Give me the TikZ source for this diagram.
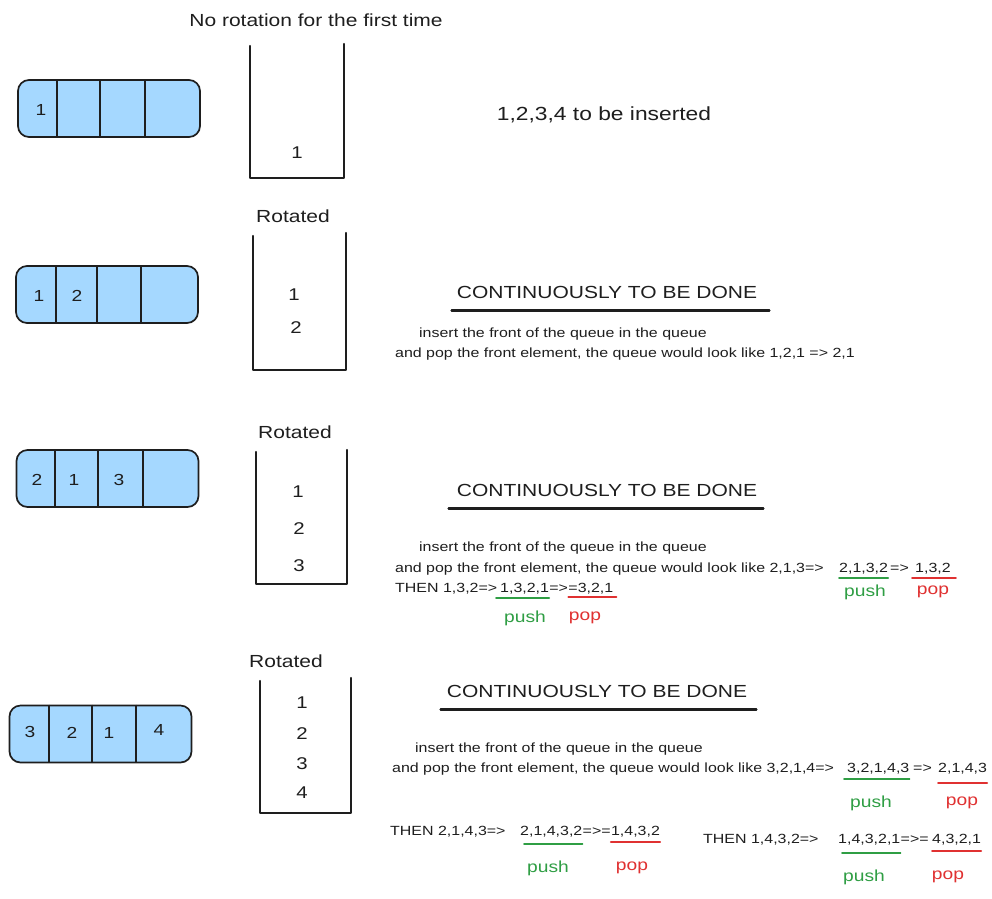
\documentclass[tikz,border=0pt]{standalone}
\usepackage{fontspec}
\setmainfont[FakeStretch=1.2]{Liberation Sans}
\usetikzlibrary{calc}
\definecolor{qblue}{HTML}{A5D8FF}
\definecolor{ink}{HTML}{1E1E1E}
\definecolor{pgreen}{HTML}{2F9E44}
\definecolor{pred}{HTML}{E03131}
\begin{document}
\begin{tikzpicture}[x=1pt,y=-1pt,
  every node/.style={inner sep=0pt, text=ink},
  qbox/.style={draw=ink, line width=1.7pt, fill=qblue, rounded corners=11pt, minimum width=182pt, minimum height=57pt},
  qdiv/.style={draw=ink, line width=1.8pt},
  digit/.style={font=\fontsize{16}{16}\selectfont},
  sdigit/.style={font=\fontsize{17}{17}\selectfont},
  stackbox/.style={draw=ink, line width=2.4pt, line cap=round, line join=round},
  heading/.style={font=\fontsize{17.5}{17.5}\selectfont},
  bigtext/.style={font=\fontsize{19}{19}\selectfont},
  titletext/.style={font=\fontsize{17.5}{17.5}\selectfont},
  tline/.style={draw=ink, line width=2.6pt, line cap=round},
  body/.style={font=\fontsize{13.3}{13.3}\selectfont, anchor=base west},
  pushlbl/.style={text=pgreen, font=\fontsize{16}{16}\selectfont},
  poplbl/.style={text=pred, font=\fontsize{16}{16}\selectfont},
  gline/.style={draw=pgreen, line width=1.8pt, line cap=round},
  rline/.style={draw=pred, line width=1.8pt, line cap=round}]
\useasboundingbox (0,0) rectangle (992,898);
\fill[white] (0,0) rectangle (992,898);

% ---------- Row 1 ----------
\node[heading] (h1) at (316,20) {No rotation for the first time};
\node[qbox] (q1) at (109,108.5) {};
\foreach \dx in {40,83,128} \draw[qdiv] ($(q1.north west)+(\dx,0)$) -- ($(q1.south west)+(\dx,0)$);
\node[digit] (q1a) at (41,110) {1};
\coordinate (s1a) at (250,46); \coordinate (s1b) at (250,178);
\coordinate (s1c) at (344,178); \coordinate (s1d) at (344,44);
\draw[stackbox] (s1a) -- (s1b) -- (s1c) -- (s1d);
\node[sdigit] (s1x1) at (297,153) {1};
\node[bigtext] (ins) at (604,115) {1,2,3,4 to be inserted};

% ---------- Row 2 ----------
\node[heading] (h2) at (293,216) {Rotated};
\node[qbox] (q2) at (107,294.5) {};
\foreach \dx in {41,82,126} \draw[qdiv] ($(q2.north west)+(\dx,0)$) -- ($(q2.south west)+(\dx,0)$);
\node[digit] (q2a) at (39,296) {1};
\node[digit] (q2b) at (77,296) {2};
\coordinate (s2a) at (253,236); \coordinate (s2b) at (253,370);
\coordinate (s2c) at (346,370); \coordinate (s2d) at (346,233);
\draw[stackbox] (s2a) -- (s2b) -- (s2c) -- (s2d);
\node[sdigit] (s2x1) at (294,295) {1};
\node[sdigit] (s2x2) at (296,328) {2};
\node[titletext] (t2) at (607,292) {CONTINUOUSLY TO BE DONE};
\draw[tline] ($(t2.south west)+(-5,12)$) -- ($(t2.south east)+(12,12)$);
\node[body] (r2i) at (419,337) {insert the front of the queue in the queue};
\node[body] (r2a) at (395,357) {and pop the front element, the queue would look like 1,2,1 => 2,1};

% ---------- Row 3 ----------
\node[heading] (h3) at (295,432) {Rotated};
\node[qbox] (q3) at (107.5,478.5) {};
\foreach \dx in {39,82,127} \draw[qdiv] ($(q3.north west)+(\dx,0)$) -- ($(q3.south west)+(\dx,0)$);
\node[digit] (q3a) at (37,480) {2};
\node[digit] (q3b) at (74,480) {1};
\node[digit] (q3c) at (119,480) {3};
\coordinate (s3a) at (256,452); \coordinate (s3b) at (256,584);
\coordinate (s3c) at (347,584); \coordinate (s3d) at (347,450);
\draw[stackbox] (s3a) -- (s3b) -- (s3c) -- (s3d);
\node[sdigit] (s3x1) at (298,492) {1};
\node[sdigit] (s3x2) at (299,529) {2};
\node[sdigit] (s3x3) at (299,566) {3};
\node[titletext] (t3) at (607,490) {CONTINUOUSLY TO BE DONE};
\draw[tline] ($(t3.south west)+(-8,12)$) -- ($(t3.south east)+(6,12)$);
\node[body] (r3i) at (419,551) {insert the front of the queue in the queue};
\node[body] (r3a) at (395,572) {and pop the front element, the queue would look like 2,1,3=>};
\node[body] (r3b) at (839,572) {2,1,3,2};
\node[body] (r3c) at (890,572) {=>};
\node[body] (r3d) at (915,572) {1,3,2};
\draw[gline] ([yshift=-6pt]r3b.base west) -- ([yshift=-6pt]r3b.base east);
\draw[rline] ([yshift=-6pt,xshift=-3pt]r3d.base west) -- ([yshift=-6pt,xshift=5pt]r3d.base east);
\node[pushlbl] (r3push) at (865,592) {push};
\node[poplbl] (r3pop) at (933,592) {pop};
\node[body] (r3e) at (395,592) {THEN 1,3,2=>};
\node[body] (r3f) at (500,592) {1,3,2,1};
\node[body, anchor=base west] (r3g) at (r3f.base east) {=>};
\node[body, anchor=base west] (r3h) at (r3g.base east) {=3,2,1};
\draw[gline] ([yshift=-6pt,xshift=-4pt]r3f.base west) -- ([yshift=-6pt]r3f.base east);
\draw[rline] ([yshift=-5pt]r3h.base west) -- ([yshift=-5pt,xshift=3pt]r3h.base east);
\node[pushlbl] (r3push2) at (525,618) {push};
\node[poplbl] (r3pop2) at (585,618) {pop};

% ---------- Row 4 ----------
\node[heading] (h4) at (286,661) {Rotated};
\node[qbox] (q4) at (100.5,734) {};
\foreach \dx in {40,83,127} \draw[qdiv] ($(q4.north west)+(\dx,0)$) -- ($(q4.south west)+(\dx,0)$);
\node[digit] (q4a) at (30,732) {3};
\node[digit] (q4b) at (72,733) {2};
\node[digit] (q4c) at (109,733) {1};
\node[digit] (q4d) at (159,730) {4};
\coordinate (s4a) at (260,681); \coordinate (s4b) at (260,813);
\coordinate (s4c) at (351,813); \coordinate (s4d) at (351,678);
\draw[stackbox] (s4a) -- (s4b) -- (s4c) -- (s4d);
\node[sdigit] (s4x1) at (302,703) {1};
\node[sdigit] (s4x2) at (302,734) {2};
\node[sdigit] (s4x3) at (302,764) {3};
\node[sdigit] (s4x4) at (302,793) {4};
\node[titletext] (t4) at (597,691) {CONTINUOUSLY TO BE DONE};
\draw[tline] ($(t4.south west)+(-6,12)$) -- ($(t4.south east)+(9,12)$);
\node[body] (r4i) at (415,752) {insert the front of the queue in the queue};
\node[body] (r4a) at (392,772) {and pop the front element, the queue would look like 3,2,1,4=>};
\node[body] (r4b) at (847,772) {3,2,1,4,3};
\node[body] (r4c) at (913,772) {=>};
\node[body] (r4d) at (938,772) {2,1,4,3};
\draw[gline] ([yshift=-7pt,xshift=-3pt]r4b.base west) -- ([yshift=-7pt]r4b.base east);
\draw[rline] ([yshift=-11pt]r4d.base west) -- ([yshift=-11pt]r4d.base east);
\node[pushlbl] (r4push) at (871,803) {push};
\node[poplbl] (r4pop) at (962,803) {pop};

\node[body] (r4e) at (390,835) {THEN 2,1,4,3=>};
\node[body] (r4f) at (520,835) {2,1,4,3,2};
\node[body, anchor=base west] (r4g) at (r4f.base east) {=>=};
\node[body, anchor=base west] (r4h) at (r4g.base east) {1,4,3,2};
\draw[gline] ([yshift=-9pt,xshift=4pt]r4f.base west) -- ([yshift=-9pt]r4f.base east);
\draw[rline] ([yshift=-7pt]r4h.base west) -- ([yshift=-7pt]r4h.base east);
\node[pushlbl] (r4push2) at (548,868) {push};
\node[poplbl] (r4pop2) at (632,868) {pop};

\node[body] (r4j) at (703,843) {THEN 1,4,3,2=>};
\node[body] (r4k) at (838,843) {1,4,3,2,1};
\node[body, anchor=base west] (r4l) at (r4k.base east) {=>=};
\node[body] (r4m) at (932,843) {4,3,2,1};
\draw[gline] ([yshift=-10pt,xshift=4pt]r4k.base west) -- ([yshift=-10pt]r4k.base east);
\draw[rline] ([yshift=-8pt]r4m.base west) -- ([yshift=-8pt]r4m.base east);
\node[pushlbl] (r4push3) at (864,877) {push};
\node[poplbl] (r4pop3) at (948,877) {pop};
\end{tikzpicture}
\end{document}
